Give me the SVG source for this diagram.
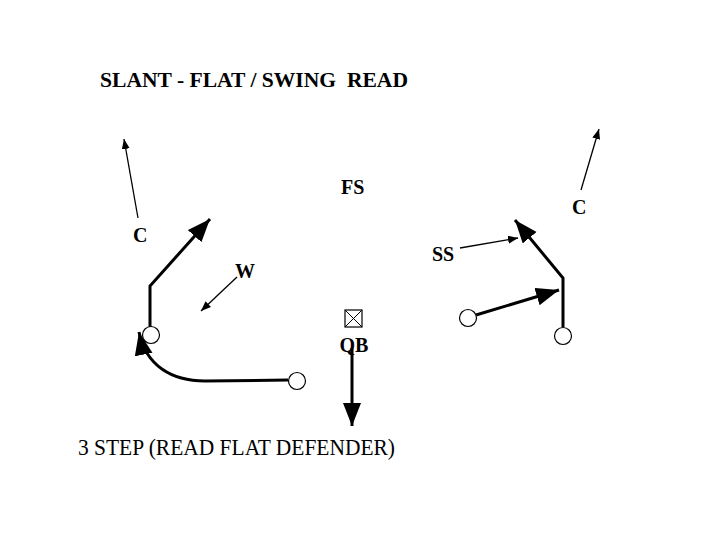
<svg xmlns="http://www.w3.org/2000/svg" width="720" height="540" viewBox="0 0 720 540">
<style>
.lbl{font-family:"Liberation Serif","Times New Roman",serif;font-weight:bold;font-size:20px;fill:#000}
.title{font-family:"Liberation Serif","Times New Roman",serif;font-weight:bold;font-size:20px;fill:#000;white-space:pre}
.foot{font-family:"Liberation Serif","Times New Roman",serif;font-size:23px;fill:#000}
.route{fill:none;stroke:#000;stroke-width:3;marker-end:url(#big)}
.read{fill:none;stroke:#000;stroke-width:1.3;marker-end:url(#small)}
.rcv{fill:#fff;stroke:#000;stroke-width:1.2}
</style>
<defs>
<marker id="big" markerUnits="userSpaceOnUse" markerWidth="26" markerHeight="20" refX="23" refY="9" orient="auto"><path d="M0,0 L23,9 L0,18 Z" fill="#000"/></marker>
<marker id="small" markerUnits="userSpaceOnUse" markerWidth="12" markerHeight="10" refX="10" refY="4" orient="auto"><path d="M0,0 L10,4 L0,8 Z" fill="#000"/></marker>
</defs>
<rect width="720" height="540" fill="#fff"/>
<text class="title" x="100" y="87" textLength="308" lengthAdjust="spacingAndGlyphs" xml:space="preserve">SLANT - FLAT / SWING  READ</text>
<text class="foot" x="78" y="455" textLength="317" lengthAdjust="spacingAndGlyphs">3 STEP (READ FLAT DEFENDER)</text>
<g id="connectors">
<path class="read" d="M138,218 L124,139"/>
<path class="route" d="M150,327 L150,286 L210,219"/>
<path class="read" d="M237,277 L201,311"/>
<path class="route" d="M288,380 L205,381 C172,381 146,366 139,332"/>
<path class="route" d="M352,348 L352,426"/>
<path class="read" d="M581,190 L599,129"/>
<path class="read" d="M460,248 L518,238"/>
<path class="route" d="M563,327 L563,278 L515,220"/>
<path class="route" d="M476,315 L559,290"/>
</g>
<g id="C-left"><text class="lbl" x="133" y="242">C</text></g>
<g id="W"><text class="lbl" x="235" y="278">W</text></g>
<g id="FS"><text class="lbl" x="341" y="194">FS</text></g>
<g id="SS"><text class="lbl" x="432" y="261">SS</text></g>
<g id="C-right"><text class="lbl" x="572" y="214">C</text></g>
<g id="QB">
<rect x="345" y="310" width="17" height="17" fill="#fff" stroke="#000" stroke-width="1.2"/>
<path d="M345,310 L362,327 M362,310 L345,327" stroke="#000" stroke-width="1"/>
<text class="lbl" x="354" y="352" text-anchor="middle">QB</text>
</g>
<g id="rcv-left"><circle class="rcv" cx="151" cy="335" r="8.5"/></g>
<g id="rcv-swing"><circle class="rcv" cx="297" cy="381" r="8.5"/></g>
<g id="rcv-flat"><circle class="rcv" cx="468" cy="318" r="8.5"/></g>
<g id="rcv-right"><circle class="rcv" cx="563" cy="336" r="8.5"/></g>
</svg>
